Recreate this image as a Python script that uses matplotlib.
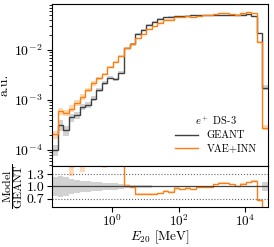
import numpy as np
import matplotlib
matplotlib.use('Agg')
import matplotlib.pyplot as plt

plt.rcParams.update({
    'font.family': 'serif',
    'font.serif': ['cmr10'],
    'mathtext.fontset': 'cm',
    'axes.formatter.use_mathtext': True,
    'axes.unicode_minus': False,
})

# energy binning of layer 20 (log bins, 39 bins)
E_MIN = 0.5e-3 / 0.033
E_MAX = 4.8e4
N_EDGES = 40

# normalised histograms (a.u.)
geant_vals = [1.0e-4, 3.2e-4, 2.5e-4, 4.5e-4, 5.0e-4, 7.4e-4, 8.0e-4, 1.07e-3, 1.6e-3,
              2.15e-3, 2.8e-3, 2.6e-3, 3.5e-3, 1.07e-2, 1.33e-2, 2.09e-2, 2.5e-2, 3.16e-2,
              3.7e-2, 4.17e-2, 4.5e-2, 4.65e-2, 4.75e-2, 4.8e-2, 4.85e-2, 4.9e-2, 4.9e-2,
              4.95e-2, 4.95e-2, 5.0e-2, 5.0e-2, 5.0e-2, 5.05e-2, 5.05e-2, 5.1e-2, 5.15e-2,
              4.75e-2, 2.15e-2, 1.77e-3]
vae_vals = [2.05e-4, 6.0e-4, 5.6e-4, 6.75e-4, 8.8e-4, 1.15e-3, 1.6e-3, 2.14e-3, 2.72e-3,
            3.27e-3, 4.6e-3, 5.7e-3, 7.7e-3, 1.09e-2, 1.32e-2, 1.71e-2, 2.05e-2, 2.59e-2,
            3.03e-2, 3.5e-2, 4.05e-2, 4.05e-2, 4.6e-2, 4.51e-2, 4.7e-2, 4.6e-2, 4.85e-2,
            4.9e-2, 4.9e-2, 5.25e-2, 5.45e-2, 5.45e-2, 5.3e-2, 5.1e-2, 5.45e-2, 5.72e-2,
            5.42e-2, 1.44e-2, 2.8e-4]
# relative statistical errors
geant_rel = [0.24, 0.25, 0.22, 0.18, 0.16, 0.14, 0.13, 0.12, 0.10, 0.09, 0.08, 0.075, 0.065,
             0.045, 0.04, 0.035, 0.03, 0.025, 0.022, 0.02, 0.018, 0.016, 0.014, 0.012, 0.011,
             0.01, 0.01, 0.01, 0.01, 0.01, 0.01, 0.01, 0.01, 0.01, 0.01, 0.01, 0.012, 0.02, 0.12]
vae_rel = [0.18, 0.15, 0.15, 0.16, 0.12, 0.13, 0.10, 0.10, 0.08, 0.046, 0.06, 0.05, 0.05,
           0.03, 0.025, 0.02, 0.018, 0.016, 0.014, 0.012, 0.011, 0.01, 0.01, 0.01, 0.009,
           0.009, 0.008, 0.008, 0.008, 0.008, 0.008, 0.008, 0.008, 0.008, 0.008, 0.008,
           0.01, 0.03, 0.12]

C_GEANT = '0.25'
C_VAE = '#ff7f0e'

edges = np.logspace(np.log10(E_MIN), np.log10(E_MAX), N_EDGES)
g = np.array(geant_vals)
v = np.array(vae_vals)
g_rel = np.array(geant_rel)
v_rel = np.array(vae_rel)

fig = plt.figure(figsize=(2.74, 2.47), dpi=100)
ax = fig.add_axes([0.190, 0.328, 0.788, 0.656])
axr = fig.add_axes([0.190, 0.162, 0.788, 0.166], sharex=ax)

# main panel
ax.stairs(g * (1 + g_rel), edges, baseline=g * (1 - g_rel), fill=True, color='0.5', alpha=0.35, lw=0)
ax.stairs(v * (1 + v_rel), edges, baseline=v * (1 - v_rel), fill=True, color=C_VAE, alpha=0.3, lw=0)
ax.stairs(g, edges, baseline=None, color=C_GEANT, lw=1.0, label='GEANT')
ax.stairs(v, edges, baseline=None, color=C_VAE, lw=1.0, label='VAE+INN')
ax.set_xscale('log')
ax.set_yscale('log')
ax.set_xlim(edges[0], edges[-1])
ax.set_ylim(4.8e-5, 8.3e-2)
ax.set_ylabel('a.u.', fontsize=10, labelpad=2)
ax.tick_params(axis='both', labelsize=10)
ax.tick_params(axis='x', which='both', labelbottom=False)
leg = ax.legend(title=r'$e^+$ DS-3', loc='lower right', bbox_to_anchor=(0.99, 0.02),
                frameon=False, fontsize=7.5, title_fontsize=7.5, handlelength=2.2,
                handletextpad=0.8, labelspacing=0.35)

# ratio panel
ratio = v / g
ratio_err = ratio * v_rel
axr.stairs(1 + g_rel, edges, baseline=1 - g_rel, fill=True, color='0.5', alpha=0.35, lw=0)
axr.stairs(ratio + ratio_err, edges, baseline=ratio - ratio_err, fill=True, color=C_VAE, alpha=0.3, lw=0)
axr.axhline(1.0, color=C_GEANT, lw=0.9)
for yy in (0.7, 1.3):
    axr.axhline(yy, color='0.4', lw=0.8, ls=':')
axr.stairs(ratio, edges, baseline=None, color=C_VAE, lw=1.0)
axr.set_ylim(0.5, 1.5)
axr.set_yticks([0.7, 1.0, 1.3])
axr.set_yticklabels(['0.7', '1.0', '1.3'])
axr.set_xticks([1, 1e2, 1e4])
axr.xaxis.set_minor_locator(matplotlib.ticker.NullLocator())
axr.tick_params(axis='y', labelsize=10, pad=2)
axr.tick_params(axis='x', labelsize=9.5, pad=1)
axr.set_ylabel(r'$\dfrac{\mathrm{Model}}{\mathrm{GEANT}}$', fontsize=8.5, labelpad=1)
axr.set_xlabel(r'$E_{20}$ [MeV]', fontsize=9.5, labelpad=0)

fig.align_ylabels([ax, axr])
fig.savefig('out.png', dpi=100)
